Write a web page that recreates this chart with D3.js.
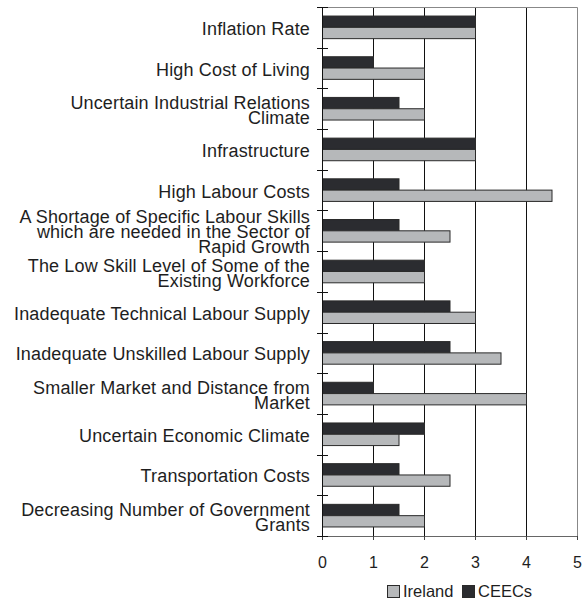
<!DOCTYPE html>
<html>
<head>
<meta charset="utf-8">
<script src="https://cdn.jsdelivr.net/npm/d3@7"></script>
<style>
  body { margin: 0; background: #fff; }
  svg text { font-family: "Liberation Sans", Arial, Helvetica, sans-serif; fill: #1e1e1e; }
</style>
</head>
<body>
<div id="chart"></div>
<script>
// categories, top to bottom (\n = line break in the label)
const categories = [
  "Inflation Rate",
  "High Cost of Living",
  "Uncertain Industrial Relations\nClimate",
  "Infrastructure",
  "High Labour Costs",
  "A Shortage of Specific Labour Skills\nwhich are needed in the Sector of\nRapid Growth",
  "The Low Skill Level of Some of the\nExisting Workforce",
  "Inadequate Technical Labour Supply",
  "Inadequate Unskilled Labour Supply",
  "Smaller Market and Distance from\nMarket",
  "Uncertain Economic Climate",
  "Transportation Costs",
  "Decreasing Number of Government\nGrants"
]
const ceecs   = [3, 1, 1.5, 3, 1.5, 1.5, 2, 2.5, 2.5, 1, 2, 1.5, 1.5]
const ireland = [3, 2, 2,   3, 4.5, 2.5, 2, 3,   3.5, 4, 1.5, 2.5, 2]
const seriesNames = ["CEECs", "Ireland"]
const xTicks = [0, 1, 2, 3, 4, 5]

const W = 586, H = 601
const margin = { top: 7, right: 9, bottom: 65, left: 322 }
const colors = { CEECs: "#2b2c30", Ireland: "#b6b8ba" }

const svg = d3.select("#chart").append("svg")
    .attr("width", W)
    .attr("height", H)

const innerW = W - margin.left - margin.right
const innerH = H - margin.top - margin.bottom

const g = svg.append("g")
    .attr("transform", `translate(${margin.left},${margin.top})`)

const x = d3.scaleLinear().domain([0, 5]).range([0, innerW])
const y = d3.scaleBand().domain(categories).range([0, innerH]).padding(0)
const ySub = d3.scaleBand().domain(seriesNames)
    .range([0, y.bandwidth()]).paddingInner(0).paddingOuter(0.8)

const rows = categories.map((c, i) => ({ cat: c, CEECs: ceecs[i], Ireland: ireland[i] }))

// vertical gridlines
g.append("g")
    .selectAll("line")
    .data(xTicks.filter(t => t > 0 && t < 5))
    .enter()
    .append("line")
    .attr("x1", d => x(d) + 0.5)
    .attr("x2", d => x(d) + 0.5)
    .attr("y1", 0)
    .attr("y2", innerH)
    .attr("stroke", "#111")
    .attr("stroke-width", 1)

// top / right frame
g.append("path")
    .attr("d", `M0,0.5H${innerW + 0.5}V${innerH}`)
    .attr("fill", "none")
    .attr("stroke", "#888")
    .attr("stroke-width", 1)

// bars
const groups = g.selectAll(".row")
    .data(rows)
    .enter()
    .append("g")
    .attr("class", "row")
    .attr("transform", d => `translate(0,${y(d.cat)})`)

groups.selectAll("rect")
    .data(d => seriesNames.map(s => ({ s, v: d[s] })))
    .enter()
    .append("rect")
    .attr("x", 0.5)
    .attr("y", d => ySub(d.s))
    .attr("width", d => x(d.v))
    .attr("height", ySub.bandwidth())
    .attr("fill", d => colors[d.s])
    .attr("stroke", "#2a2a2a")
    .attr("stroke-width", 1)

// bottom axis
const xAxis = g.append("g")
    .attr("transform", `translate(0,${innerH})`)
    .call(d3.axisBottom(x).tickValues(xTicks).tickSize(4).tickPadding(17).tickFormat(d3.format("d")))
xAxis.select(".domain").attr("stroke", "#666")
xAxis.selectAll(".tick line").attr("stroke", "#444")
xAxis.selectAll("text").style("font-size", "16px").attr("fill", "#1e1e1e")

// left axis: ticks at band boundaries crossing the axis line
const yAxis = g.append("g")
yAxis.append("line")
    .attr("x1", 0.5).attr("x2", 0.5)
    .attr("y1", 0).attr("y2", innerH)
    .attr("stroke", "#111")
yAxis.selectAll(".btick")
    .data(d3.range(categories.length + 1))
    .enter()
    .append("line")
    .attr("class", "btick")
    .attr("x1", -5).attr("x2", 6)
    .attr("y1", i => Math.round(i * y.step()) + 0.5)
    .attr("y2", i => Math.round(i * y.step()) + 0.5)
    .attr("stroke", "#111")

// category labels
const lineH = 15
const labels = g.append("g")
    .selectAll("text")
    .data(categories)
    .enter()
    .append("text")
    .attr("text-anchor", "end")
    .style("font-size", "18px")
    .style("letter-spacing", "0.15px")
    .attr("transform", d => `translate(-12,${y(d) + y.bandwidth() / 2})`)

labels.each(function(d) {
    const parts = d.split("\n")
    const t = d3.select(this)
    parts.forEach((p, k) => {
        t.append("tspan")
            .attr("x", 0)
            .attr("y", (k - (parts.length - 1) / 2) * lineH + 7.5)
            .text(p)
    })
})

// legend
const legend = svg.append("g")
    .attr("transform", `translate(387,${H - 4})`)
const legendItems = [["Ireland", 0], ["CEECs", 75]]
legendItems.forEach(([name, off]) => {
    const lg = legend.append("g").attr("transform", `translate(${off},0)`)
    lg.append("rect")
        .attr("x", 0.5).attr("y", -11.5)
        .attr("width", 12).attr("height", 12)
        .attr("fill", colors[name])
        .attr("stroke", "#2a2a2a")
    lg.append("text")
        .attr("x", 16).attr("y", 0)
        .style("font-size", "16.5px")
        .text(name)
})
</script>
</body>
</html>
